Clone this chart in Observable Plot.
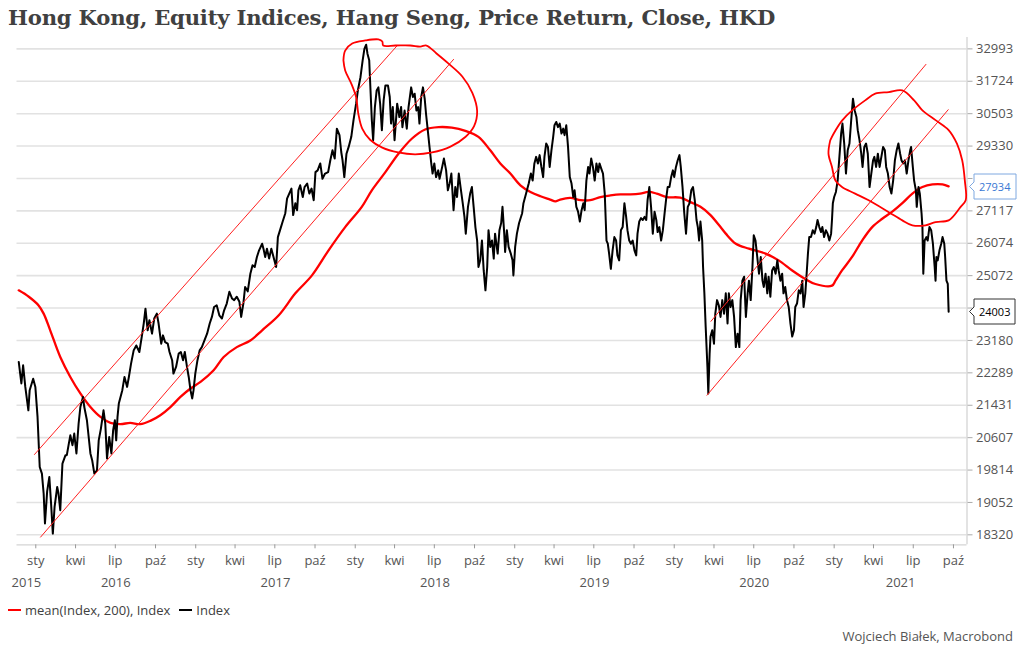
<!DOCTYPE html>
<html><head><meta charset="utf-8">
<script src="https://cdn.jsdelivr.net/npm/d3@7"></script>
<script src="https://cdn.jsdelivr.net/npm/@observablehq/plot@0.6"></script>
<style>
html,body{margin:0;padding:0;background:#fff;}
#wrap{position:relative;width:1024px;height:656px;overflow:hidden;font-family:"Open Sans",sans-serif;}
#chart{position:absolute;left:0;top:0;}
#title{position:absolute;left:8px;top:5px;font-family:"DejaVu Serif",serif;font-weight:bold;font-size:21px;color:#404040;white-space:nowrap;transform-origin:0 0;letter-spacing:-0.2px;}
#legend{position:absolute;left:8px;top:601px;font-size:13px;color:#404040;display:flex;align-items:center;}
#legend .item{display:flex;align-items:center;margin-right:9px;}
#legend .sw{display:inline-block;width:13px;height:2px;margin-right:4px;}
#source{position:absolute;right:11px;top:627px;font-size:13px;color:#555;}
</style></head>
<body><div id="wrap"><div id="chart"></div><div id="title">Hong Kong, Equity Indices, Hang Seng, Price Return, Close, HKD</div><div id="legend"></div><div id="source">Wojciech Białek, Macrobond</div></div>
<script>
// ---- data ----
const hangSeng = [
["2015-11-23",22585],["2015-11-29",22003],["2015-12-03",22495],["2015-12-08",21913],["2015-12-15",21300],["2015-12-18",21826],["2015-12-26",22130],["2015-12-31",21913],
["2016-01-05",21130],["2016-01-10",19887],["2016-01-15",19730],["2016-01-19",19259],["2016-01-22",18573],["2016-01-27",19310],["2016-02-01",19649],["2016-02-05",19025],["2016-02-09",18347],["2016-02-13",18948],["2016-02-19",19412],["2016-02-22",19259],["2016-02-26",18874],["2016-03-02",19971],["2016-03-09",20175],["2016-03-12",20175],["2016-03-16",20420],["2016-03-20",20665],["2016-03-25",20420],["2016-03-29",20709],["2016-04-03",20217],["2016-04-08",20963],["2016-04-12",21385],["2016-04-18",21648],["2016-04-21",21385],["2016-04-27",21046],["2016-05-05",20217],["2016-05-09",20053],["2016-05-14",19730],["2016-05-20",19807],["2016-05-24",20540],["2016-05-29",20834],["2016-06-04",21300],["2016-06-08",20963],["2016-06-12",20094],["2016-06-17",20622],["2016-06-22",20217],["2016-06-26",20792],["2016-06-30",21046],["2016-07-03",20540],["2016-07-06",21130],["2016-07-09",21474],["2016-07-17",21826],["2016-07-22",22178],["2016-07-28",21913],["2016-08-01",22178],["2016-08-06",22540],["2016-08-12",22904],["2016-08-18",23040],["2016-08-25",22858],["2016-08-31",23323],["2016-09-04",23660],["2016-09-08",24088],["2016-09-13",23467],["2016-09-17",23755],["2016-09-23",23372],["2016-09-28",23803],["2016-10-04",23945],["2016-10-08",23660],["2016-10-14",23090],["2016-10-18",23323],["2016-10-23",23133],["2016-10-29",23090],["2016-11-02",22858],["2016-11-08",22633],["2016-11-11",22268],["2016-11-17",22448],["2016-11-23",22813],["2016-11-28",22858],["2016-12-03",22633],["2016-12-07",22858],["2016-12-12",22448],["2016-12-16",22178],["2016-12-20",21826],["2016-12-24",21608],["2016-12-27",21826],["2016-12-31",22268],
["2017-01-05",22633],["2017-01-10",22904],["2017-01-15",22994],["2017-01-21",23180],["2017-01-27",23372],["2017-02-02",23660],["2017-02-07",23850],["2017-02-12",24138],["2017-02-18",24190],["2017-02-24",23898],["2017-03-02",23803],["2017-03-07",24040],["2017-03-13",24240],["2017-03-19",24588],["2017-03-25",24390],["2017-03-30",24340],["2017-04-05",24440],["2017-04-11",24290],["2017-04-15",23850],["2017-04-20",24240],["2017-04-24",24730],["2017-04-30",24600],["2017-05-06",25130],["2017-05-11",25388],["2017-05-16",25335],["2017-05-21",25645],["2017-05-26",25853],["2017-06-02",26060],["2017-06-05",25905],["2017-06-09",25645],["2017-06-13",25905],["2017-06-18",25595],["2017-06-23",25905],["2017-06-28",25645],["2017-07-04",25335],["2017-07-08",26270],["2017-07-14",26540],["2017-07-19",26770],["2017-07-25",27040],["2017-07-29",27522],["2017-08-03",27690],["2017-08-08",27860],["2017-08-12",26980],["2017-08-17",27370],["2017-08-21",27140],["2017-08-24",27800],["2017-08-28",27970],["2017-09-03",27575],["2017-09-07",27910],["2017-09-13",28030],["2017-09-18",27690],["2017-09-23",27860],["2017-09-28",27470],["2017-10-02",28420],["2017-10-07",28480],["2017-10-13",28720],["2017-10-18",28190],["2017-10-24",28370],["2017-10-31",28420],["2017-11-05",28830],["2017-11-10",29180],["2017-11-15",28890],["2017-11-20",29956],["2017-11-26",29720],["2017-11-30",29120],["2017-12-03",28830],["2017-12-07",28250],["2017-12-12",29060],["2017-12-17",29300],["2017-12-23",29660],["2017-12-28",30260],
["2018-01-03",30876],["2018-01-07",31370],["2018-01-13",31880],["2018-01-18",32540],["2018-01-22",32993],["2018-01-26",33160],["2018-01-29",32800],["2018-02-02",32540],["2018-02-05",31370],["2018-02-08",30260],["2018-02-11",29540],["2018-02-15",30750],["2018-02-19",31370],["2018-02-23",31490],["2018-02-27",30876],["2018-03-03",29900],["2018-03-07",31000],["2018-03-11",31560],["2018-03-17",31560],["2018-03-21",31125],["2018-03-24",30140],["2018-03-28",30750],["2018-04-01",29540],["2018-04-07",30876],["2018-04-12",30380],["2018-04-16",30750],["2018-04-19",30010],["2018-04-24",30620],["2018-04-29",29956],["2018-05-03",30750],["2018-05-09",31490],["2018-05-13",31125],["2018-05-17",31250],["2018-05-21",30620],["2018-05-25",30750],["2018-05-28",30140],["2018-06-01",31125],["2018-06-05",31490],["2018-06-09",31060],["2018-06-12",30500],["2018-06-16",29900],["2018-06-20",29300],["2018-06-24",28720],["2018-06-27",28370],["2018-07-01",28720],["2018-07-05",28250],["2018-07-10",28480],["2018-07-13",28190],["2018-07-19",28600],["2018-07-23",28890],["2018-07-28",28480],["2018-08-01",27800],["2018-08-05",28030],["2018-08-09",28370],["2018-08-14",27140],["2018-08-18",27910],["2018-08-22",27575],["2018-08-26",28370],["2018-08-30",27910],["2018-09-04",27370],["2018-09-08",26920],["2018-09-11",26380],["2018-09-16",27250],["2018-09-21",27690],["2018-09-25",27910],["2018-09-29",27250],["2018-10-03",26590],["2018-10-07",26160],["2018-10-10",25335],["2018-10-14",25540],["2018-10-18",26160],["2018-10-22",25230],["2018-10-26",24630],["2018-10-30",25335],["2018-11-02",26490],["2018-11-06",25960],["2018-11-10",26160],["2018-11-14",25595],["2018-11-17",26380],["2018-11-23",25750],["2018-11-27",26490],["2018-12-01",26720],["2018-12-04",27250],["2018-12-08",26380],["2018-12-10",25800],["2018-12-14",26490],["2018-12-18",25960],["2018-12-23",25750],["2018-12-27",25540],["2018-12-29",25080],
["2019-01-02",25960],["2019-01-06",26380],["2019-01-11",26720],["2019-01-18",27040],["2019-01-21",27370],["2019-01-27",27690],["2019-02-02",28030],["2019-02-07",28370],["2019-02-11",28130],["2019-02-15",28720],["2019-02-19",28950],["2019-02-23",28720],["2019-02-27",29010],["2019-03-03",28600],["2019-03-07",28250],["2019-03-10",28950],["2019-03-14",29420],["2019-03-18",29300],["2019-03-22",28600],["2019-03-26",29180],["2019-03-30",29660],["2019-04-02",30080],["2019-04-06",30200],["2019-04-10",30010],["2019-04-14",30140],["2019-04-18",29780],["2019-04-22",29956],["2019-04-25",29720],["2019-04-29",30080],["2019-05-03",29300],["2019-05-07",28250],["2019-05-11",28030],["2019-05-15",27575],["2019-05-18",27800],["2019-05-22",27250],["2019-05-26",27090],["2019-05-30",26770],["2019-06-03",27140],["2019-06-07",27370],["2019-06-10",27140],["2019-06-14",28130],["2019-06-18",28600],["2019-06-21",28370],["2019-06-25",28890],["2019-06-29",28600],["2019-07-03",28130],["2019-07-07",28720],["2019-07-11",28420],["2019-07-14",28720],["2019-07-18",28540],["2019-07-22",28370],["2019-07-26",27690],["2019-07-30",26160],["2019-08-02",26060],["2019-08-05",25750],["2019-08-09",25280],["2019-08-13",25853],["2019-08-17",26270],["2019-08-21",26160],["2019-08-24",25695],["2019-08-28",25540],["2019-09-01",26490],["2019-09-05",26590],["2019-09-09",27370],["2019-09-13",26920],["2019-09-16",26490],["2019-09-20",26160],["2019-09-24",26060],["2019-09-28",26160],["2019-10-02",25853],["2019-10-06",25695],["2019-10-09",26380],["2019-10-13",26770],["2019-10-17",26880],["2019-10-21",26820],["2019-10-25",26920],["2019-10-29",26820],["2019-11-01",27470],["2019-11-05",27910],["2019-11-09",27250],["2019-11-13",26380],["2019-11-17",27090],["2019-11-21",26820],["2019-11-24",26430],["2019-11-28",26590],["2019-12-02",26160],["2019-12-06",26490],["2019-12-10",27040],["2019-12-14",27575],["2019-12-17",27910],["2019-12-21",27910],["2019-12-25",28250],["2019-12-29",28480],
["2020-01-01",28250],["2020-01-05",28600],["2020-01-09",28830],["2020-01-13",29010],["2020-01-16",28600],["2020-01-20",27910],["2020-01-24",27040],["2020-01-28",26380],["2020-02-01",27250],["2020-02-05",27370],["2020-02-09",27800],["2020-02-13",27910],["2020-02-17",27470],["2020-02-21",26820],["2020-02-24",26590],["2020-02-27",26160],["2020-03-01",26770],["2020-03-05",26160],["2020-03-07",25335],["2020-03-10",24540],["2020-03-13",23565],["2020-03-15",22994],["2020-03-17",22448],["2020-03-19",21740],["2020-03-22",22813],["2020-03-24",23290],["2020-03-28",23467],["2020-04-01",23090],["2020-04-04",23945],["2020-04-08",24340],["2020-04-12",24190],["2020-04-16",23850],["2020-04-20",24340],["2020-04-24",23945],["2020-04-28",24540],["2020-05-02",23660],["2020-05-05",24540],["2020-05-09",24138],["2020-05-13",24340],["2020-05-17",23850],["2020-05-21",22994],["2020-05-25",23372],["2020-05-29",22994],["2020-06-01",24340],["2020-06-05",24920],["2020-06-09",25040],["2020-06-13",23850],["2020-06-17",24540],["2020-06-20",24920],["2020-06-24",24340],["2020-06-28",25335],["2020-07-01",26330],["2020-07-05",26160],["2020-07-09",25645],["2020-07-13",25130],["2020-07-17",25645],["2020-07-21",24920],["2020-07-24",24730],["2020-07-28",25130],["2020-08-01",24540],["2020-08-04",25040],["2020-08-08",24440],["2020-08-12",25230],["2020-08-16",25335],["2020-08-20",25130],["2020-08-24",25540],["2020-08-27",25230],["2020-08-31",24920],["2020-09-04",25130],["2020-09-07",24540],["2020-09-11",24730],["2020-09-15",24340],["2020-09-19",24138],["2020-09-23",23660],["2020-09-27",23290],["2020-10-01",23467],["2020-10-04",24138],["2020-10-08",24240],["2020-10-12",24630],["2020-10-16",24540],["2020-10-20",24920],["2020-10-23",24138],["2020-10-27",24540],["2020-10-30",25130],["2020-11-02",25750],["2020-11-05",26270],["2020-11-09",26270],["2020-11-13",26490],["2020-11-17",26380],["2020-11-21",26590],["2020-11-24",26820],["2020-11-28",26590],["2020-12-02",26430],["2020-12-05",26590],["2020-12-09",26270],["2020-12-13",26490],["2020-12-17",26380],["2020-12-21",26160],["2020-12-25",26380],["2020-12-27",26820],["2020-12-29",27370],
["2021-01-01",27575],["2021-01-05",27745],["2021-01-09",28130],["2021-01-13",28950],["2021-01-17",29780],["2021-01-20",30140],["2021-01-24",29420],["2021-01-28",28370],["2021-02-01",29180],["2021-02-05",29420],["2021-02-09",30260],["2021-02-13",31060],["2021-02-17",30620],["2021-02-21",30380],["2021-02-24",29900],["2021-02-28",29540],["2021-03-04",29060],["2021-03-07",28600],["2021-03-11",29300],["2021-03-15",29420],["2021-03-19",29060],["2021-03-23",27910],["2021-03-27",28370],["2021-03-31",28830],["2021-04-03",28950],["2021-04-07",28600],["2021-04-11",29060],["2021-04-15",28600],["2021-04-19",28950],["2021-04-23",29300],["2021-04-27",29180],["2021-04-30",28600],["2021-05-04",28370],["2021-05-08",27910],["2021-05-12",27690],["2021-05-16",28130],["2021-05-20",28830],["2021-05-24",29180],["2021-05-28",29420],["2021-06-01",29060],["2021-06-04",28830],["2021-06-08",28720],["2021-06-12",28830],["2021-06-16",28370],["2021-06-20",28830],["2021-06-24",29180],["2021-06-26",29300],["2021-06-30",28600],["2021-07-03",28130],["2021-07-07",27800],["2021-07-09",27250],["2021-07-13",27910],["2021-07-16",27690],["2021-07-20",27040],["2021-07-22",26590],["2021-07-24",25130],["2021-07-27",26160],["2021-07-31",26270],["2021-08-03",26160],["2021-08-07",26590],["2021-08-11",26490],["2021-08-15",26060],["2021-08-19",25335],["2021-08-21",24920],["2021-08-23",25645],["2021-08-26",25540],["2021-08-30",25853],["2021-09-03",26060],["2021-09-06",26270],["2021-09-10",26060],["2021-09-12",25645],["2021-09-15",24920],["2021-09-18",24820],["2021-09-20",24003]
];

const mean200 = [
["2015-11-23",24630],["2015-12-16",24440],["2016-01-07",24190],["2016-01-19",23945],["2016-02-03",23467],["2016-02-26",22720],["2016-03-20",22178],["2016-04-12",21740],["2016-05-05",21385],["2016-05-28",21130],["2016-06-20",20980],["2016-07-13",20946],["2016-08-04",20980],["2016-08-27",20946],["2016-09-19",21030],["2016-10-12",21175],["2016-11-04",21385],["2016-11-27",21648],["2016-12-20",21870],
["2017-01-12",22046],["2017-02-11",22358],["2017-03-06",22720],["2017-04-05",22994],["2017-05-06",23180],["2017-06-02",23467],["2017-07-10",23898],["2017-08-17",24540],["2017-09-24",25080],["2017-11-01",25853],["2017-12-09",26590],
["2018-01-16",27250],["2018-02-08",27800],["2018-03-11",28420],["2018-04-10",29060],["2018-05-11",29600],["2018-06-10",29925],["2018-07-11",30010],["2018-08-10",29990],["2018-09-10",29875],["2018-10-10",29660],["2018-11-06",29180],["2018-11-29",28720],["2018-12-22",28370],
["2019-01-14",27970],["2019-02-06",27745],["2019-03-01",27600],["2019-03-23",27490],["2019-04-04",27430],["2019-04-15",27490],["2019-05-08",27545],["2019-06-01",27470],["2019-06-23",27470],["2019-07-16",27575],["2019-08-08",27630],["2019-08-31",27665],["2019-09-23",27665],["2019-10-15",27690],["2019-11-03",27745],["2019-11-22",27690],["2019-12-15",27575],
["2020-01-15",27555],["2020-02-07",27405],["2020-03-01",27250],["2020-03-24",26980],["2020-04-16",26590],["2020-04-28",26380],["2020-05-21",26060],["2020-06-20",25905],["2020-07-28",25750],["2020-08-27",25540],["2020-09-27",25230],["2020-10-27",24970],["2020-11-19",24820],["2020-12-27",24770],
["2021-01-04",24920],["2021-01-19",25230],["2021-02-11",25645],["2021-03-06",26160],["2021-03-29",26590],["2021-04-21",26860],["2021-05-14",27090],["2021-06-06",27370],["2021-06-29",27690],["2021-07-22",27910],["2021-08-14",28000],["2021-09-06",28000],["2021-09-20",27934]
];

// hand-drawn trend channels: [id, date, value]
const channelPoints = [
["c1-upper","2015-12-29",20191],["c1-upper","2018-04-07",33122],
["c1-lower","2016-01-12",18270],["c1-lower","2018-08-14",32575],
["c2-upper","2020-03-25",23723],["c2-upper","2021-07-30",32379],
["c2-lower","2020-03-16",21693],["c2-lower","2021-09-19",30650]
];

// hand-drawn circles: [id, date, value]
const circlePoints = [
["r1","2017-12-05",32535],["r1","2017-12-09",32926],["r1","2017-12-25",33209],["r1","2018-01-24",33331],["r1","2018-02-23",33372],["r1","2018-03-04",33290],["r1","2018-03-06",33127],["r1","2018-04-03",33127],["r1","2018-05-07",33127],["r1","2018-05-30",33085],["r1","2018-06-13",33127],["r1","2018-07-06",32810],["r1","2018-08-02",32418],["r1","2018-09-03",31908],["r1","2018-09-26",31283],["r1","2018-10-07",30600],["r1","2018-09-30",30047],["r1","2018-09-10",29655],["r1","2018-08-07",29310],["r1","2018-06-26",29105],["r1","2018-05-18",29040],["r1","2018-04-09",29105],["r1","2018-03-04",29275],["r1","2018-02-04",29555],["r1","2018-01-17",29956],["r1","2018-01-08",30510],["r1","2018-01-03",31120],["r1","2017-12-23",31634],["r1","2017-12-09",32143],["r1","2017-12-05",32535],
["r2","2020-12-23",29533],["r2","2020-12-19",29062],["r2","2020-12-27",28595],["r2","2021-01-04",28135],["r2","2021-01-19",27911],["r2","2021-02-18",27690],["r2","2021-03-21",27466],["r2","2021-05-06",27075],["r2","2021-06-06",26808],["r2","2021-06-29",26647],["r2","2021-07-29",26647],["r2","2021-08-21",26753],["r2","2021-09-20",26808],["r2","2021-10-17",27241],["r2","2021-10-29",27466],["r2","2021-10-27",28135],["r2","2021-10-21",28830],["r2","2021-10-09",29413],["r2","2021-09-20",29903],["r2","2021-08-21",30265],["r2","2021-07-22",30624],["r2","2021-07-03",30999],["r2","2021-06-06",31374],["r2","2021-05-06",31310],["r2","2021-04-05",31250],["r2","2021-03-13",30999],["r2","2021-02-11",30623],["r2","2021-01-19",30247],["r2","2020-12-31",29780],["r2","2020-12-23",29533]
];

const yTicks = [18320,19052,19814,20607,21431,22289,23180,24108,25072,26074,27117,28202,29330,30503,31724,32993];
const monthNames = ["sty","kwi","lip","paź"];
const years = [2015,2016,2017,2018,2019,2020,2021];
const seriesNames = ["mean(Index, 200), Index","Index"];
const seriesColors = ["#ff0000","#000000"];

// ---- build ----
const parse = d3.utcParse("%Y-%m-%d");
const idx = hangSeng.map(([d,v]) => ({date: parse(d), value: v}));
const ma = mean200.map(([d,v]) => ({date: parse(d), value: v}));
const channels = channelPoints.map(([id,d,v]) => ({id, date: parse(d), value: v}));
const circles = circlePoints.map(([id,d,v]) => ({id, date: parse(d), value: v}));
const xDomain = [parse("2015-11-19"), parse("2021-11-01")];
const yDomain = [18100, 33450];
const qTicks = d3.utcMonth.every(3).range(xDomain[0], xDomain[1]);
const yearLabels = years.map(y => {
  const a = Math.max(Date.UTC(y,0,1), +xDomain[0]);
  const b = Math.min(Date.UTC(y+1,0,1), +xDomain[1]);
  return {date: new Date((a+b)/2), label: String(y)};
});
const lastMA = ma[ma.length-1];
const lastIdx = idx[idx.length-1];

const plot = Plot.plot({
  width: 1024, height: 600,
  marginLeft: 16.5, marginRight: 57.5, marginTop: 37, marginBottom: 55.7,
  style: {fontFamily: "'Open Sans', sans-serif", fontSize: "13px", color: "#555", background: "transparent"},
  x: {type: "utc", domain: xDomain},
  y: {type: "log", domain: yDomain},
  marks: [
    Plot.gridY(yTicks, {stroke: "#e2e2e2", strokeOpacity: 1, strokeWidth: 1.6}),
    Plot.ruleY([yDomain[0]], {stroke: "#d4d4d4", strokeWidth: 1.3}),
    Plot.ruleX([xDomain[1]], {stroke: "#d4d4d4", strokeWidth: 1.3}),
    Plot.line(ma, {x: "date", y: "value", stroke: seriesColors[0], strokeWidth: 2.3, curve: "catmull-rom"}),
    Plot.line(idx, {x: "date", y: "value", stroke: seriesColors[1], strokeWidth: 2, strokeLinejoin: "round"}),
    Plot.line(channels, {x: "date", y: "value", z: "id", stroke: "#ff2020", strokeWidth: 1}),
    Plot.line(circles, {x: "date", y: "value", z: "id", stroke: "#ff0000", strokeWidth: 1.8, curve: "catmull-rom"}),
    Plot.axisY({anchor: "right", ticks: yTicks, tickFormat: d => String(d), tickSize: 5, tickPadding: 4, label: null, stroke: "#aaa", fill: "#555", fontSize: 13}),
    Plot.axisX({ticks: qTicks, tickFormat: d => monthNames[d.getUTCMonth()/3], tickSize: 4, tickPadding: 7, label: null, stroke: "#999", fill: "#555", fontSize: 13}),
    Plot.text(yearLabels, {x: "date", text: "label", frameAnchor: "bottom", dy: 38, lineAnchor: "middle", fill: "#555", fontSize: 13}),
    Plot.tip([lastMA], {y: "value", title: d => String(d.value), anchor: "left", frameAnchor: "right", dx: 2, fontSize: 11, textPadding: 5, pointerSize: 9, stroke: "#7fa8e0", pathFilter: "none"}),
    Plot.tip([lastIdx], {y: "value", title: d => String(d.value), anchor: "left", frameAnchor: "right", dx: 2, fontSize: 11, textPadding: 5, pointerSize: 9, stroke: "#333", pathFilter: "none"})
  ]
});
document.getElementById("chart").appendChild(plot);
const tips = plot.querySelectorAll('g[aria-label="tip"]');
const tipColors = ["#3a78d4", "#000"];
tips.forEach((g, i) => g.querySelectorAll("text").forEach(t => { t.style.fill = tipColors[i] || "#000"; }));

const legend = d3.select("#legend");
seriesNames.forEach((n, i) => {
  const it = legend.append("div").attr("class", "item");
  it.append("span").attr("class", "sw").style("background", seriesColors[i]);
  it.append("span").text(n);
});

// fit title width to the reference header width
const title = document.getElementById("title");
const tw = title.getBoundingClientRect().width;
if (tw > 0) title.style.transform = `scaleX(${(767 / tw).toFixed(4)})`;
</script>
</body></html>
